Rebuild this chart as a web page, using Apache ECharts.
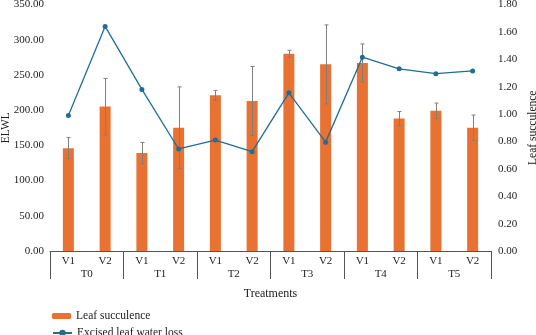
<!DOCTYPE html>
<html>
<head>
<meta charset="utf-8">
<script src="https://cdn.jsdelivr.net/npm/echarts@6/dist/echarts.min.js"></script>
<style>
  html, body { margin: 0; padding: 0; background: #fff; }
  #chart { width: 536px; height: 335px; }
</style>
</head>
<body>
<div id="chart"></div>
<script>
// sub categories and groups
const varieties = ['V1', 'V2', 'V1', 'V2', 'V1', 'V2', 'V1', 'V2', 'V1', 'V2', 'V1', 'V2']
const treatments = ['T0', 'T1', 'T2', 'T3', 'T4', 'T5']

// bars (read on left axis) + error half-widths
const succulence = [146, 205, 139, 175, 221, 213, 280, 265, 267, 188, 199, 175]
const succErr = [15, 40, 15, 58, 7, 49, 5, 56, 27, 10, 11, 18]

// line (right axis)
const waterLoss = [0.99, 1.64, 1.18, 0.745, 0.81, 0.725, 1.155, 0.795, 1.415, 1.33, 1.295, 1.315]

const font = 'Liberation Serif'
const axisColor = '#555'
const textColor = '#222'

let errData = succulence.map((v, i) => [i, v - succErr[i], v + succErr[i]])

let legendText = { fontFamily: font, fontSize: 11.5, color: textColor }

let EC = echarts.init(document.getElementById('chart'))
let option = {
    animation: false,
    textStyle: { fontFamily: font },
    grid: { left: 50, right: 45, top: 4.5, bottom: 84, outerBoundsMode: 'none', containLabel: false },
    legend: [
        {
            left: 47,
            top: 305,
            itemWidth: 19,
            itemHeight: 6,
            textStyle: legendText,
            data: ['Leaf succulence']
        },
        {
            left: 47,
            top: 322,
            itemWidth: 19,
            itemHeight: 8,
            textStyle: legendText,
            data: ['Excised leaf water loss']
        }
    ],
    xAxis: [
        {
            type: 'category',
            data: varieties,
            axisLine: { lineStyle: { color: axisColor, width: 1 } },
            axisTick: { show: false },
            axisLabel: { fontFamily: font, fontSize: 11, color: textColor, margin: 5 }
        },
        {
            type: 'category',
            data: treatments,
            position: 'bottom',
            axisLine: { show: false },
            axisTick: { show: true, length: 28, lineStyle: { color: axisColor } },
            axisLabel: { fontFamily: font, fontSize: 11, color: textColor, margin: 18 },
            name: 'Treatments',
            nameLocation: 'middle',
            nameGap: 37,
            nameTextStyle: { fontFamily: font, fontSize: 12, color: textColor }
        }
    ],
    yAxis: [
        {
            type: 'value',
            min: 0,
            max: 350,
            interval: 50,
            name: 'ELWL',
            nameLocation: 'middle',
            nameGap: 38,
            nameMoveOverlap: false,
            nameTextStyle: { fontFamily: font, fontSize: 11.5, color: textColor },
            axisLine: { show: false },
            axisTick: { show: false },
            splitLine: { show: false },
            axisLabel: { fontFamily: font, fontSize: 11, color: textColor, margin: 6,
                formatter: v => v.toFixed(2) }
        },
        {
            type: 'value',
            min: 0,
            max: 1.8,
            interval: 0.2,
            name: 'Leaf succulence',
            nameLocation: 'middle',
            nameGap: 36,
            nameMoveOverlap: false,
            nameTextStyle: { fontFamily: font, fontSize: 11.5, color: textColor },
            axisLine: { show: false },
            axisTick: { show: false },
            splitLine: { show: false },
            axisLabel: { fontFamily: font, fontSize: 11, color: textColor, margin: 7,
                formatter: v => v.toFixed(2) }
        }
    ],
    series: [
        {
            name: 'Leaf succulence',
            type: 'bar',
            xAxisIndex: 0,
            yAxisIndex: 0,
            barWidth: 11,
            itemStyle: { color: '#E97132' },
            data: succulence
        },
        {
            name: 'errors',
            type: 'custom',
            xAxisIndex: 0,
            yAxisIndex: 0,
            z: 3,
            data: errData,
            renderItem: function (params, api) {
                let lo = api.coord([api.value(0), api.value(1)])
                let hi = api.coord([api.value(0), api.value(2)])
                let x = Math.round(lo[0]) + 0.5
                let cap = 2
                let st = { stroke: '#7f7f7f', lineWidth: 1 }
                return {
                    type: 'group',
                    children: [
                        { type: 'line', shape: { x1: x, y1: lo[1], x2: x, y2: hi[1] }, style: st },
                        { type: 'line', shape: { x1: x - cap, y1: lo[1], x2: x + cap, y2: lo[1] }, style: st },
                        { type: 'line', shape: { x1: x - cap, y1: hi[1], x2: x + cap, y2: hi[1] }, style: st }
                    ]
                }
            }
        },
        {
            name: 'Excised leaf water loss',
            type: 'line',
            xAxisIndex: 0,
            yAxisIndex: 1,
            z: 4,
            symbol: 'circle',
            symbolSize: 5,
            lineStyle: { color: '#1f6e95', width: 1.3 },
            itemStyle: { color: '#1f6e95' },
            data: waterLoss
        }
    ]
}
EC.setOption(option)
</script>
</body>
</html>
